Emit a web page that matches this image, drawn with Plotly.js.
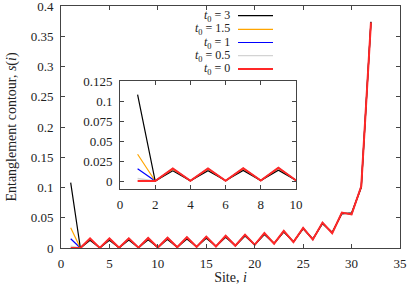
<!DOCTYPE html>
<html><head><meta charset="utf-8">
<script src="https://cdn.plot.ly/plotly-3.0.1.min.js"></script>
<style>html,body{margin:0;padding:0;background:#fff}#plot{width:409px;height:289px}</style>
</head><body><div id="plot"></div>
<script>
const sites = [1,2,3,4,5,6,7,8,9,10,11,12,13,14,15,16,17,18,19,20,21,22,23,24,25,26,27,28,29,30,31,32];
const s_t3   = [0.108,0,0.0127,0.0003,0.0128,0.0004,0.0131,0.0006,0.0136,0.0009,0.0142,0.0013,0.0150,0.0020,0.0161,0.0028,0.0176,0.0040,0.0196,0.0056,0.0223,0.0078,0.0262,0.0105,0.0315,0.0150,0.0402,0.0260,0.0565,0.0580,0.100,0.374];
const s_t15  = [0.0335,0,0.0148,0.0002,0.0150,0.0003,0.0153,0.0005,0.0158,0.0008,0.0164,0.0012,0.0172,0.0018,0.0182,0.0026,0.0196,0.0037,0.0214,0.0053,0.0240,0.0074,0.0277,0.0100,0.0328,0.0143,0.0415,0.0250,0.0580,0.0562,0.101,0.373];
const s_t1   = [0.0153,0,0.0153,0.0002,0.0155,0.0003,0.0157,0.0005,0.0162,0.0008,0.0167,0.0012,0.0175,0.0018,0.0185,0.0026,0.0199,0.0037,0.0217,0.0052,0.0243,0.0073,0.0280,0.0099,0.0330,0.0141,0.0418,0.0247,0.0583,0.0557,0.102,0.373];
const s_t05  = [0.003,0,0.0156,0.0002,0.0157,0.0003,0.0159,0.0005,0.0164,0.0008,0.0169,0.0012,0.0177,0.0018,0.0187,0.0026,0.0201,0.0037,0.0219,0.0052,0.0245,0.0073,0.0282,0.0098,0.0332,0.0140,0.0419,0.0245,0.0584,0.0555,0.102,0.373];
const s_t0   = [0,0,0.0157,0.0002,0.0158,0.0003,0.0160,0.0005,0.0165,0.0008,0.0170,0.0012,0.0178,0.0018,0.0188,0.0026,0.0202,0.0037,0.0220,0.0052,0.0246,0.0073,0.0283,0.0098,0.0333,0.0140,0.0420,0.0245,0.0585,0.0555,0.102,0.373];
const seriesNames = ["<i>t</i><sub>0</sub> = 3","<i>t</i><sub>0</sub> = 1.5","<i>t</i><sub>0</sub> = 1","<i>t</i><sub>0</sub> = 0.5","<i>t</i><sub>0</sub> = 0"];
const mainXTicks = [0,5,10,15,20,25,30,35];
const mainYTicks = [0,0.05,0.1,0.15,0.2,0.25,0.3,0.35,0.4];
const mainYText = ["0","0.05","0.1","0.15","0.2","0.25","0.3","0.35","0.4"];
const insetXTicks = [0,2,4,6,8,10];
const insetYTicks = [0,0.025,0.05,0.075,0.1,0.125];
const insetYText = ["0","0.025","0.05","0.075","0.1","0.125"];

const allSeries = [s_t3, s_t15, s_t1, s_t05, s_t0];
const colors = ["#000000","#FFA500","#0000FF","#D3D3D3","rgb(255,40,40)"];
const widths = [1.2,1.2,1.2,1.5,2];
const drawOrder = [3,2,1,0,4];

const traces = [];
for (const axes of [["x","y"],["x2","y2"]]) {
  for (const k of drawOrder) {
    traces.push({x: sites, y: allSeries[k], xaxis: axes[0], yaxis: axes[1], type:"scatter", mode:"lines",
      line:{color: colors[k], width: widths[k]}, showlegend:false, hoverinfo:"skip"});
  }
}

const fam = "Liberation Serif, serif";
const tickFont = {family:fam, size:13, color:"#222"};
const titleFont = {family:fam, size:14, color:"#222"};
const legFont = {family:fam, size:12, color:"#222"};
const axBase = {showgrid:false, zeroline:false, showline:true, linecolor:"#444", linewidth:1,
  ticks:"inside", tickcolor:"#444", ticklen:4, mirror:"ticks", tickfont:tickFont, tickmode:"array",
  ticklabeloverflow:"allow"};

const plotL = 61, plotR = 400, plotT = 6, plotB = 248;
const W = plotR-plotL, H = plotB-plotT;
const px = v => (v-plotL)/W, py = v => (plotB-v)/H;

const annotations = [], shapes = [];
const rowY = [15.7,29.3,42.5,55.7,68.9];
for (let k=0;k<5;k++){
  annotations.push({xref:"paper", yref:"paper", x:px(231), y:py(rowY[k]), xanchor:"right", yanchor:"middle",
    text: seriesNames[k], showarrow:false, font:legFont, borderpad:0});
  shapes.push({type:"line", xref:"paper", yref:"paper", x0:px(238), x1:px(273), y0:py(rowY[k]), y1:py(rowY[k]),
    line:{color:colors[k], width: k===4?2:1.2}});
}

const layout = {
  width:409, height:289, margin:{l:plotL, r:409-plotR, t:plotT, b:289-plotB},
  paper_bgcolor:"#fff", plot_bgcolor:"#fff", showlegend:false, font:tickFont,
  xaxis: Object.assign({}, axBase, {range:[0,35], tickvals:mainXTicks, ticktext:mainXTicks.map(String), ticklabelstandoff:3,
    title:{text:"Site, <i>i</i>", font:titleFont, standoff:2}}),
  yaxis: Object.assign({}, axBase, {range:[0,0.4002], tickvals:mainYTicks, ticktext:mainYText, ticklabelstandoff:4,
    title:{text:"Entanglement contour, <i>s</i>(<i>i</i>)", font:titleFont, standoff:10}}),
  xaxis2: Object.assign({}, axBase, {domain:[px(120),px(296)], anchor:"y2", range:[0,10], tickvals:insetXTicks, ticktext:insetXTicks.map(String), ticklabelstandoff:3}),
  yaxis2: Object.assign({}, axBase, {domain:[py(189),py(81)], anchor:"x2", range:[-0.01,0.12507], tickvals:insetYTicks, ticktext:insetYText, ticklabelstandoff:4}),
  annotations: annotations, shapes: shapes
};
Plotly.newPlot("plot", traces, layout, {staticPlot:true, displayModeBar:false});
</script></body></html>
